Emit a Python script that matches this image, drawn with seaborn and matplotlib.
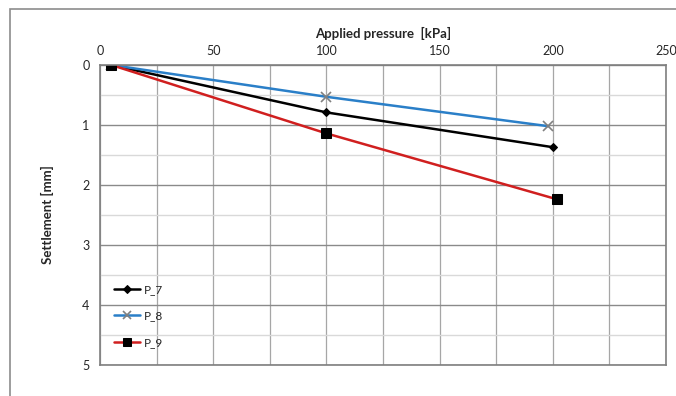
import pandas as pd
import seaborn as sns
import matplotlib.pyplot as plt
from matplotlib.patches import Rectangle
from matplotlib.ticker import MultipleLocator

# series data (pressure in kPa, settlement in mm)
p7_pressure = [5, 100, 200]
p7_settlement = [0.0, 0.79, 1.37]
p8_pressure = [5, 100, 198]
p8_settlement = [0.0, 0.53, 1.02]
p9_pressure = [5, 100, 202]
p9_settlement = [0.0, 1.14, 2.24]

series_names = ["P_7", "P_8", "P_9"]


def main():
    sns.set_style("white")
    plt.rcParams["font.family"] = ["Lato", "DejaVu Sans"]

    fig = plt.figure(figsize=(6.76, 3.96), dpi=100)
    ax = fig.add_axes([100 / 676, 1 - 365 / 396, 566 / 676, 300 / 396])

    # outer chart frame (cropped at right/bottom)
    fig.patches.append(Rectangle((10 / 676, -0.2), 1.2, 1.2 - 9 / 396,
                                 transform=fig.transFigure, fill=False,
                                 edgecolor="#8c8c8c", linewidth=1.2, clip_on=False))

    styles = {
        "P_7": dict(color="black", marker="D", markersize=4.5,
                    markerfacecolor="black", markeredgecolor="black"),
        "P_8": dict(color="#2a7fc8", marker="x", markersize=7,
                    markeredgecolor="#808080", markeredgewidth=1.2),
        "P_9": dict(color="#d01f1f", marker="s", markersize=7,
                    markerfacecolor="black", markeredgecolor="black"),
    }
    data = {
        "P_7": (p7_pressure, p7_settlement),
        "P_8": (p8_pressure, p8_settlement),
        "P_9": (p9_pressure, p9_settlement),
    }
    for name in series_names:
        x, y = data[name]
        df = pd.DataFrame({"pressure": x, "settlement": y})
        sns.lineplot(data=df, x="pressure", y="settlement", ax=ax, label=name,
                     linewidth=1.8, **styles[name])

    ax.set_xlim(0, 250)
    ax.set_ylim(5, 0)
    ax.xaxis.set_major_locator(MultipleLocator(50))
    ax.xaxis.set_minor_locator(MultipleLocator(25))
    ax.yaxis.set_major_locator(MultipleLocator(1))
    ax.yaxis.set_minor_locator(MultipleLocator(0.5))
    ax.xaxis.tick_top()
    ax.xaxis.set_label_position("top")

    ax.grid(which="major", axis="y", color="#8a8a8a", linewidth=1.0)
    ax.grid(which="minor", axis="y", color="#d9d9d9", linewidth=1.0)
    ax.grid(which="both", axis="x", color="#a6a6a6", linewidth=0.9)
    ax.set_axisbelow(True)

    for side in ["left", "top", "right", "bottom"]:
        ax.spines[side].set_visible(True)
        ax.spines[side].set_color("#7f7f7f")
        ax.spines[side].set_linewidth(1.2)

    ax.tick_params(axis="both", which="major", labelsize=9, length=4,
                   color="#7f7f7f", direction="out")
    ax.tick_params(axis="both", which="minor", length=0)
    ax.tick_params(axis="x", length=0, pad=6)

    ax.set_xlabel("Applied pressure  [kPa]", fontsize=9.5, fontweight="bold", labelpad=5)
    ax.set_ylabel("Settlement [mm]", fontsize=9.5, fontweight="bold", labelpad=20)

    ax.legend(loc="lower left", frameon=False, fontsize=8.5, handlelength=2.2,
              handletextpad=0.3, labelspacing=1.3, borderaxespad=0.3,
              markerscale=0.8, bbox_to_anchor=(0.01, 0.03))

    fig.savefig("out.png", dpi=100)
    plt.close(fig)


if __name__ == "__main__":
    main()
